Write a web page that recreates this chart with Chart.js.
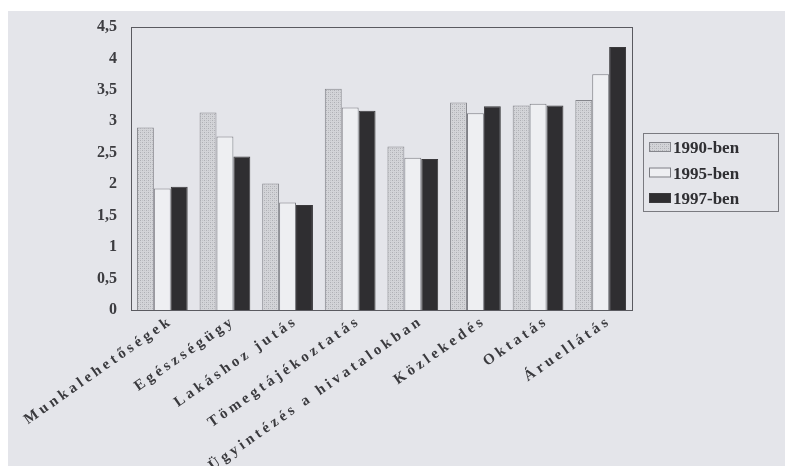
<!DOCTYPE html>
<html>
<head>
<meta charset="utf-8">
<script src="https://cdn.jsdelivr.net/npm/chart.js@4"></script>
<style>
  body { margin: 0; background: #fff; }
</style>
</head>
<body>
<canvas id="chart" width="785" height="466"></canvas>
<script>
// data
const categories = ['Munkalehetőségek', 'Egészségügy', 'Lakáshoz jutás', 'Tömegtájékoztatás',
  'Ügyintézés a hivatalokban', 'Közlekedés', 'Oktatás', 'Áruellátás']
const seriesNames = ['1990-ben', '1995-ben', '1997-ben']
const v1990 = [2.90, 3.14, 2.01, 3.52, 2.60, 3.30, 3.25, 3.34]
const v1995 = [1.93, 2.76, 1.71, 3.22, 2.42, 3.13, 3.28, 3.75]
const v1997 = [1.96, 2.44, 1.67, 3.17, 2.40, 3.24, 3.25, 4.18]
const yTickLabels = ['0', '0,5', '1', '1,5', '2', '2,5', '3', '3,5', '4', '4,5']

// stippled gray fill for the 1990 bars
function stipple() {
  let c = document.createElement('canvas')
  c.width = 4; c.height = 4
  let g = c.getContext('2d')
  g.fillStyle = '#d3d4d8'
  g.fillRect(0, 0, 4, 4)
  g.fillStyle = '#aeafb4'
  g.fillRect(0, 0, 1, 1)
  g.fillRect(2, 2, 1, 1)
  g.fillStyle = '#c2c3c7'
  g.fillRect(2, 0, 1, 1)
  g.fillRect(0, 2, 1, 1)
  return g.createPattern(c, 'repeat')
}

const serif = "'Liberation Serif', 'DejaVu Serif', serif"

const paper = {
  id: 'paper',
  beforeDraw(chart) {
    let ctx = chart.ctx
    ctx.save()
    ctx.fillStyle = '#fff'
    ctx.fillRect(0, 0, chart.width, chart.height)
    ctx.fillStyle = '#e4e5ea'
    ctx.fillRect(8, 11, chart.width - 8, chart.height - 11)
    ctx.restore()

    // spaced-out category labels like the scan
    let x = chart.scales.x
    if (!x._spaced) {
      let orig = x.drawLabels
      x.drawLabels = function (area) {
        this.ctx.save()
        this.ctx.letterSpacing = '3.6px'
        orig.call(this, area)
        this.ctx.restore()
      }
      x._spaced = true
    }
  },
  afterDraw(chart) {
    let ctx = chart.ctx
    let a = chart.chartArea
    ctx.save()
    ctx.strokeStyle = '#5a5a60'
    ctx.lineWidth = 1
    ctx.strokeRect(a.left + 0.5, a.top + 0.5, a.right - a.left, a.bottom - a.top)

    // framed legend at the right, same look as the scan
    let lx = a.right + 11
    let ly = 133
    ctx.strokeStyle = '#7a7a80'
    ctx.strokeRect(lx + 0.5, ly + 0.5, 135, 78)
    ctx.font = 'bold 17px ' + serif
    ctx.textBaseline = 'alphabetic'
    chart.data.datasets.forEach((ds, i) => {
      let top = ly + 9 + i * 25.5
      ctx.fillStyle = ds.backgroundColor
      ctx.fillRect(lx + 6, top, 22, 10)
      ctx.strokeStyle = ds.borderColor
      ctx.strokeRect(lx + 6.5, top + 0.5, 21, 9)
      ctx.fillStyle = '#2f2f33'
      ctx.fillText(ds.label, lx + 30, top + 11)
    })
    ctx.restore()
  }
}

const ctx = document.getElementById('chart').getContext('2d')

const chart = new Chart(ctx, {
  type: 'bar',
  data: {
    labels: categories,
    datasets: [{
      label: seriesNames[0],
      data: v1990,
      backgroundColor: stipple(),
      borderColor: '#85868c',
      borderWidth: 1
    },
    {
      label: seriesNames[1],
      data: v1995,
      backgroundColor: '#eeeff2',
      borderColor: '#7c7d83',
      borderWidth: 1
    },
    {
      label: seriesNames[2],
      data: v1997,
      backgroundColor: '#2f2e31',
      borderColor: '#3a393c',
      borderWidth: 1
    }]
  },
  options: {
    responsive: false,
    animation: false,
    layout: {
      padding: { top: 27, right: 153, bottom: 0, left: 0 }
    },
    datasets: {
      bar: { categoryPercentage: 0.81, barPercentage: 1.0 }
    },
    scales: {
      x: {
        grid: { display: false, drawTicks: false },
        border: { display: true, color: '#5a5a60' },
        ticks: {
          autoSkip: false,
          minRotation: 35,
          maxRotation: 35,
          padding: 2,
          labelOffset: 9,
          color: '#3a3a3e',
          font: { family: serif, size: 15, weight: 'bold' }
        },
        afterFit: function (scale) { scale.height = 156 }
      },
      y: {
        min: 0,
        max: 4.5,
        grid: { display: false, drawTicks: false },
        border: { display: true, color: '#5a5a60' },
        ticks: {
          stepSize: 0.5,
          padding: 14,
          color: '#3c3c40',
          font: { family: serif, size: 16, weight: 'bold' },
          callback: function (value, index) { return yTickLabels[index] }
        },
        afterFit: function (scale) { scale.width = 131 }
      }
    },
    plugins: {
      tooltip: { enabled: false },
      legend: { display: false }
    }
  },
  plugins: [paper]
})
</script>
</body>
</html>
